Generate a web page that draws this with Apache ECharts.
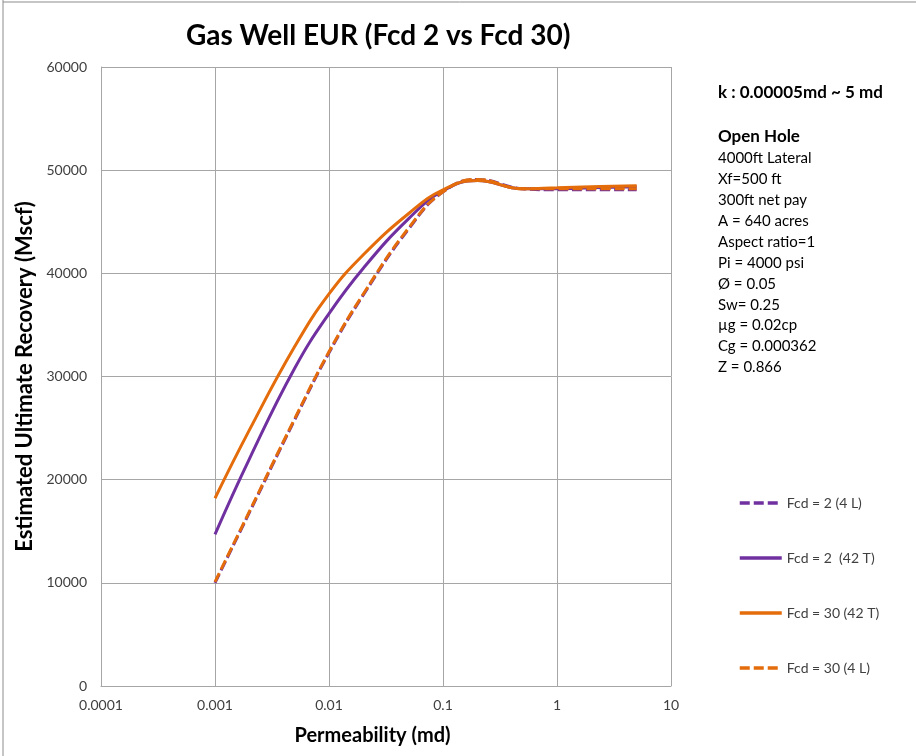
<!DOCTYPE html>
<html>
<head>
<meta charset="utf-8">
<script src="https://cdn.jsdelivr.net/npm/echarts@6/dist/echarts.min.js"></script>
<style>
html,body{margin:0;padding:0;background:#fff;}
#chart{width:916px;height:756px;}
</style>
</head>
<body>
<div id="chart"></div>
<script>
// ---- data ----
const permeability = [0.001, 0.002, 0.005, 0.01, 0.02, 0.05, 0.1, 0.2, 0.5, 1, 2, 5];
const fcd2_4L   = [10000, 16800, 25800, 32300, 37900, 44300, 47900, 49100, 48200, 48100, 48100, 48100];
const fcd2_42T  = [14700, 22000, 30800, 36100, 40500, 45300, 48000, 49000, 48200, 48200, 48300, 48400];
const fcd30_42T = [18200, 24800, 32900, 38000, 41800, 45800, 48100, 49000, 48200, 48300, 48400, 48500];
const fcd30_4L  = [10100, 16900, 25900, 32400, 38000, 44400, 47900, 49100, 48200, 48200, 48200, 48200];
const seriesNames = ['Fcd = 2 (4 L)', 'Fcd = 2  (42 T)', 'Fcd = 30 (42 T)', 'Fcd = 30 (4 L)'];
const xTickLabels = ['0.0001', '0.001', '0.01', '0.1', '1', '10'];
const yTickLabels = ['0', '10000', '20000', '30000', '40000', '50000', '60000'];
const noteHeader = 'k : 0.00005md ~ 5 md';
const noteTitle = 'Open Hole';
const noteLines = ['4000ft Lateral', 'Xf=500 ft', '300ft net pay', 'A = 640 acres', 'Aspect ratio=1',
  'Pi = 4000 psi', 'Ø = 0.05', 'Sw= 0.25', 'µg = 0.02cp', 'Cg = 0.000362', 'Z = 0.866'];

const PURPLE = '#7030A0', ORANGE = '#E46C0A';
const FONT = 'Lato, "Open Sans", sans-serif';
const pairs = ys => permeability.map((k, i) => [k, ys[i]]);

const chart = echarts.init(document.getElementById('chart'), null, {renderer: 'canvas'});
const mkSeries = (name, ys, color, dashed) => ({
  name, type: 'line', data: pairs(ys), smooth: 0.45, symbol: 'none', showSymbol: false,
  lineStyle: {color, width: 3, type: dashed ? [10, 4] : 'solid', cap: 'butt'},
  itemStyle: {color}, z: 3
});

chart.setOption({
  animation: false,
  backgroundColor: '#fff',
  title: {
    text: 'Gas Well EUR (Fcd 2 vs Fcd 30)', left: 181, top: 17,
    textStyle: {fontFamily: FONT, fontSize: 28, fontWeight: 'bold', color: '#000'}
  },
  grid: {left: 101, right: 245, top: 67, bottom: 70, containLabel: false},
  xAxis: {
    type: 'log', logBase: 10, min: 0.0001, max: 10,
    name: 'Permeability (md)', nameLocation: 'middle', nameGap: 40,
    nameTextStyle: {fontFamily: FONT, fontSize: 20, fontWeight: 'bold', color: '#000', padding: [0, 27, 0, 0]},
    axisLine: {show: true, lineStyle: {color: '#a6a6a6', width: 1}},
    axisTick: {show: false}, minorTick: {show: false},
    splitLine: {show: true, lineStyle: {color: '#a6a6a6', width: 1}},
    axisLabel: {
      fontFamily: FONT, fontSize: 14, color: '#404040', margin: 12,
      formatter: v => xTickLabels[Math.round(Math.log10(v)) + 4] || ''
    }
  },
  yAxis: {
    type: 'value', min: 0, max: 60000, interval: 10000,
    name: 'Estimated Ultimate Recovery (Mscf)', nameLocation: 'middle', nameGap: 62,
    nameTextStyle: {fontFamily: FONT, fontSize: 22, fontWeight: 'bold', color: '#000'},
    axisLine: {show: true, lineStyle: {color: '#a6a6a6', width: 1}},
    axisTick: {show: false},
    splitLine: {show: true, lineStyle: {color: '#a6a6a6', width: 1}},
    axisLabel: {
      fontFamily: FONT, fontSize: 14, color: '#404040', margin: 14,
      formatter: v => yTickLabels[Math.round(v / 10000)]
    }
  },
  legend: {
    orient: 'vertical', left: 733, top: 491, itemGap: 41, itemWidth: 42, itemHeight: 14,
    data: seriesNames,
    itemStyle: {opacity: 0, borderWidth: 0},
    lineStyle: {width: 3.5},
    textStyle: {fontFamily: FONT, fontSize: 14, color: '#404040'}
  },
  series: [
    mkSeries(seriesNames[0], fcd2_4L, PURPLE, true),
    mkSeries(seriesNames[1], fcd2_42T, PURPLE, false),
    mkSeries(seriesNames[2], fcd30_42T, ORANGE, false),
    mkSeries(seriesNames[3], fcd30_4L, ORANGE, true)
  ],
  graphic: [
    {type: 'line', shape: {x1: 3, y1: 0, x2: 3, y2: 756}, style: {stroke: '#8c8c8c', lineWidth: 1}},
    {type: 'line', shape: {x1: 3, y1: 2, x2: 916, y2: 2}, style: {stroke: '#8c8c8c', lineWidth: 1}},
    {type: 'text', left: 718, top: 84, style: {text: noteHeader, font: 'bold 17px ' + FONT, fill: '#000'}},
    {type: 'text', left: 718, top: 128, style: {text: noteTitle, font: 'bold 17px ' + FONT, fill: '#000'}},
    {type: 'text', left: 718, top: 148, style: {text: noteLines.join('\n'), font: '15px ' + FONT, fill: '#000', lineHeight: 20.9}}
  ]
});
</script>
</body>
</html>
